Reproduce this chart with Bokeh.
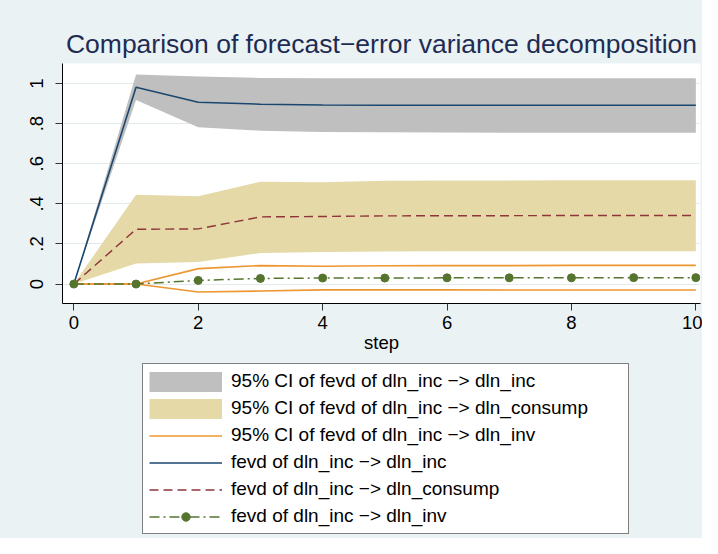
from bokeh.plotting import figure
from bokeh.layouts import column
from bokeh.models import Range1d, Legend, LegendItem, FixedTicker
from bokeh.embed import file_html
from bokeh.resources import INLINE

# ---- data ----
steps = [0, 1, 2, 3, 4, 5, 6, 7, 8, 9, 10]

inc_fevd = [0, 0.982, 0.907, 0.897, 0.893, 0.892, 0.892, 0.892, 0.892, 0.892, 0.892]
inc_lo = [0, 0.918, 0.782, 0.765, 0.758, 0.757, 0.756, 0.755, 0.755, 0.755, 0.755]
inc_hi = [0, 1.045, 1.035, 1.028, 1.027, 1.027, 1.027, 1.027, 1.027, 1.027, 1.027]

consump_fevd = [0, 0.273, 0.275, 0.335, 0.337, 0.340, 0.341, 0.341, 0.342, 0.342, 0.342]
consump_lo = [0, 0.102, 0.110, 0.155, 0.160, 0.162, 0.163, 0.163, 0.163, 0.163, 0.163]
consump_hi = [0, 0.445, 0.438, 0.510, 0.508, 0.515, 0.516, 0.517, 0.518, 0.518, 0.518]

inv_fevd = [0, 0, 0.018, 0.028, 0.030, 0.030, 0.031, 0.031, 0.031, 0.032, 0.032]
inv_lo = [0, 0, -0.040, -0.035, -0.029, -0.029, -0.029, -0.030, -0.030, -0.030, -0.030]
inv_hi = [0, 0, 0.077, 0.092, 0.089, 0.091, 0.092, 0.092, 0.093, 0.093, 0.093]

x_ticks = [0, 2, 4, 6, 8, 10]
y_ticks = [0, 0.2, 0.4, 0.6, 0.8, 1]
y_tick_labels = ["0", ".2", ".4", ".6", ".8", "1"]

title_text = "Comparison of forecast\u2212error variance decomposition"
legend_labels = [
    "95% CI of fevd of dln_inc \u2212> dln_inc",
    "95% CI of fevd of dln_inc \u2212> dln_consump",
    "95% CI of fevd of dln_inc \u2212> dln_inv",
    "fevd of dln_inc \u2212> dln_inc",
    "fevd of dln_inc \u2212> dln_consump",
    "fevd of dln_inc \u2212> dln_inv",
]

# ---- style ----
FONT = "Liberation Sans"
BG = "#EAF2F3"
NAVY = "#1A476F"
MAROON = "#90353B"
GREEN = "#55752F"
ORANGE = "#EE962F"
GREY_BAND = "#BFBFBF"
SAND_BAND = "#E4D9A7"

W = 702
H_MAIN = 356
H_LEG = 182

p = figure(
    width=W, height=H_MAIN,
    output_backend="svg", toolbar_location=None,
    x_range=Range1d(-0.182, 10.075), y_range=Range1d(-0.097, 1.1),
    min_border_left=62, min_border_right=2,
    min_border_top=63, min_border_bottom=H_MAIN - 303,
)
p.border_fill_color = BG
p.background_fill_color = "white"
p.outline_line_color = None

p.title.text = title_text
p.title.align = "center"
p.title.text_font = FONT
p.title.text_font_size = "26.5px"
p.title.text_font_style = "normal"
p.title.text_color = "#1E2C53"
p.title.standoff = 9

# axes
p.xaxis.ticker = FixedTicker(ticks=x_ticks)
p.yaxis.ticker = FixedTicker(ticks=y_ticks)
p.yaxis.major_label_overrides = dict(zip(y_ticks, y_tick_labels))
p.yaxis.major_label_orientation = "vertical"
for ax in (p.xaxis, p.yaxis):
    ax.axis_line_color = "black"
    ax.axis_line_width = 1
    ax.major_tick_line_color = "#333333"
    ax.major_tick_out = 7
    ax.major_tick_in = 0
    ax.minor_tick_line_color = None
    ax.major_label_text_font = FONT
    ax.major_label_text_font_size = "18.5px"
    ax.major_label_text_color = "black"
p.xaxis.major_label_standoff = 5
p.yaxis.major_label_standoff = 12
p.xaxis.axis_label = "step"
p.xaxis.axis_label_text_font = FONT
p.xaxis.axis_label_text_font_size = "18.5px"
p.xaxis.axis_label_text_font_style = "normal"
p.xaxis.axis_label_text_color = "black"
p.xaxis.axis_label_standoff = 0

p.xgrid.grid_line_color = None
p.ygrid.grid_line_color = "#E2EAEB"
p.ygrid.grid_line_width = 1

# ---- glyphs ----
p.varea(x=steps, y1=inc_lo, y2=inc_hi, fill_color=GREY_BAND)
p.varea(x=steps, y1=consump_lo, y2=consump_hi, fill_color=SAND_BAND)
p.line(steps, inv_hi, line_color=ORANGE, line_width=1.6)
p.line(steps, inv_lo, line_color=ORANGE, line_width=1.6)
p.line(steps, inc_fevd, line_color=NAVY, line_width=1.6)
p.line(steps, consump_fevd, line_color=MAROON, line_width=1.4, line_dash="9 5")
p.line(steps, inv_fevd, line_color=GREEN, line_width=1.5, line_dash="10 4 2 4")
p.scatter(steps, inv_fevd, size=8, fill_color=GREEN, line_color=GREEN)

# ---- legend panel (separate strip below the plot) ----
q = figure(
    width=W, height=H_LEG,
    output_backend="svg", toolbar_location=None,
    x_range=Range1d(0, 1), y_range=Range1d(0, 1),
    x_axis_type=None, y_axis_type=None,
    min_border_left=0, min_border_right=0, min_border_top=0, min_border_bottom=0,
)
q.border_fill_color = None
q.background_fill_color = None
q.outline_line_color = None
q.grid.visible = False

# key glyphs: placed outside the visible range, they only feed the legend
off_x = [5, 6]
off_y = [5, 5]
k_grey = q.line(off_x, off_y, line_color=GREY_BAND, line_width=20, line_cap="butt")
k_sand = q.line(off_x, off_y, line_color=SAND_BAND, line_width=20, line_cap="butt")
k_or = q.line(off_x, off_y, line_color=ORANGE, line_width=1.6)
k_navy = q.line(off_x, off_y, line_color=NAVY, line_width=1.6)
k_mar = q.line(off_x, off_y, line_color=MAROON, line_width=1.4, line_dash="9 5")
k_grn = q.line(off_x, off_y, line_color=GREEN, line_width=1.5, line_dash="10 4 2 4")
k_grn_pt = q.scatter(off_x, off_y, size=8, fill_color=GREEN, line_color=GREEN)

items = [
    LegendItem(label=legend_labels[0], renderers=[k_grey]),
    LegendItem(label=legend_labels[1], renderers=[k_sand]),
    LegendItem(label=legend_labels[2], renderers=[k_or]),
    LegendItem(label=legend_labels[3], renderers=[k_navy]),
    LegendItem(label=legend_labels[4], renderers=[k_mar]),
    LegendItem(label=legend_labels[5], renderers=[k_grn, k_grn_pt]),
]
legend = Legend(
    items=items, location=(80, 4), orientation="vertical",
    label_text_font=FONT, label_text_font_size="19px", label_text_color="black",
    glyph_width=73, glyph_height=21, label_height=21, label_width=391,
    label_standoff=9, spacing=5, padding=6, margin=0,
    border_line_color="black", border_line_width=1,
    background_fill_color="white", background_fill_alpha=1.0,
)
q.add_layout(legend, "center")

layout = column(p, q, spacing=0, styles={"background-color": BG})
open("out.html", "w").write(file_html(layout, INLINE))
